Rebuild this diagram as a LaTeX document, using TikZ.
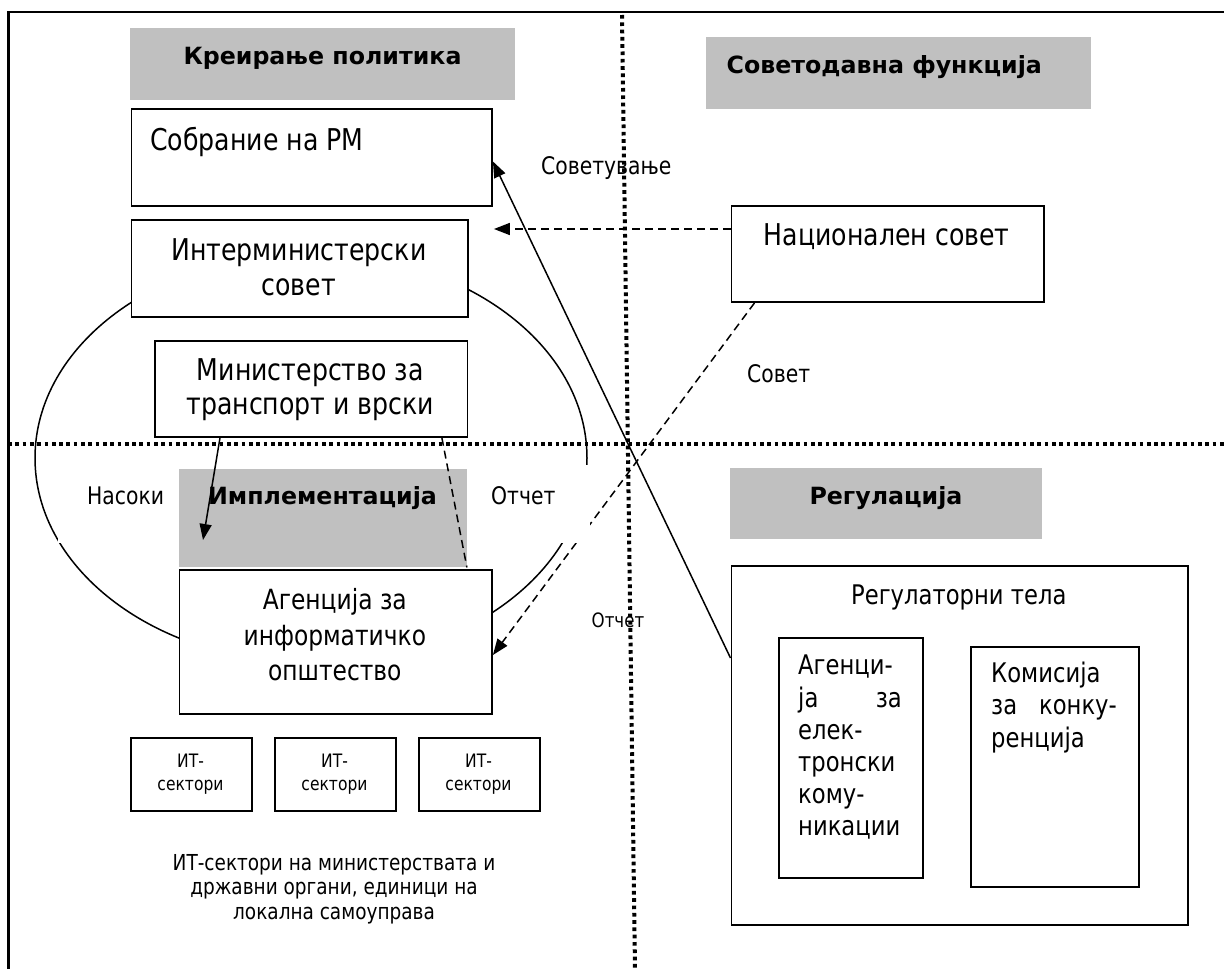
\documentclass[tikz,border=0pt]{standalone}
\usepackage{fontspec}
\setmainfont{DejaVu Sans}[FakeStretch=0.84]
\newfontfamily\headfont{DejaVu Sans}
\usetikzlibrary{arrows.meta,calc}
\definecolor{silverg}{RGB}{192,192,192}
\newcommand\fmain{\fontsize{30pt}{34pt}\selectfont}
\newcommand\fhead{\headfont\bfseries\fontsize{23.7pt}{28pt}\selectfont}
\newcommand\fag{\fontsize{27.8pt}{32pt}\selectfont}
\newcommand\freg{\fontsize{27pt}{32pt}\selectfont}
\newcommand\flab{\fontsize{24.2pt}{28pt}\selectfont}
\newcommand\fsm{\fontsize{19.8pt}{23pt}\selectfont}
\newcommand\fit{\fontsize{18.5pt}{22pt}\selectfont}
\newcommand\fbot{\fontsize{22pt}{25pt}\selectfont}
\begin{document}
\begin{tikzpicture}[x=1pt,y=-1pt,
  box/.style={draw,line width=1.9pt,fill=white,inner sep=0,anchor=north west},
  gbox/.style={fill=silverg,inner sep=0,anchor=north west},
  patch/.style={fill=white,inner sep=0,anchor=north west},
  tc/.style={inner sep=0,anchor=base},
  tl/.style={inner sep=0,anchor=base west},
  tr/.style={inner sep=0,anchor=base east},
  conn/.style={line width=1.5pt},
  dsh/.style={conn,dash pattern=on 8pt off 5pt},
  tip/.style={-{Triangle[length=16pt,width=12pt]}},
  dotl/.style={line width=4pt,dash pattern=on 3.7pt off 3.6pt}]
\path[use as bounding box] (0,0) rectangle (1224,969);
\clip (0,0) rectangle (1224,969);
% outer frame
\draw[line width=2.6pt] (8.5,1000) -- (8.5,12) -- (1300,12);
% ellipse
\draw[line width=1.5pt] (311,458) ellipse [x radius=276pt, y radius=205pt];
% gray headers
\node[gbox,minimum width=385pt,minimum height=72pt] (krg) at (130,28) {};
\node[gbox,minimum width=385pt,minimum height=72pt] (svg) at (706,37) {};
\node[gbox,minimum width=312pt,minimum height=71pt] (rgg) at (730,468) {};
\node[gbox,minimum width=288pt,minimum height=98pt] (img) at (178.5,469) {};
% boxes
\node[box,minimum width=360.5pt,minimum height=97pt] (sob) at (130.5,108) {};
\node[box,minimum width=336.5pt,minimum height=97pt] (int) at (130.5,219) {};
\node[box,minimum width=312.5pt,minimum height=96pt] (nac) at (730.5,205) {};
\node[box,minimum width=312.5pt,minimum height=96pt] (min) at (154,340) {};
\node[box,minimum width=312.5pt,minimum height=144pt] (ag) at (178.5,569) {};
\node[box,minimum width=121pt,minimum height=73pt] (it1) at (130,737) {};
\node[box,minimum width=121pt,minimum height=73pt] (it2) at (274,737) {};
\node[box,minimum width=121pt,minimum height=73pt] (it3) at (418,737) {};
\node[box,minimum width=456.5pt,minimum height=359pt] (reg) at (730.5,565) {};
\node[box,minimum width=144pt,minimum height=240pt] (ek) at (778,637) {};
\node[box,minimum width=168pt,minimum height=240pt] (kom) at (970,646) {};
% connectors
\draw[conn,tip] ($(reg.north west)+(0,93)$) -- ($(sob.east)+(0,4)$);
\draw[dsh,tip] ($(nac.north west)+(0,24)$) -- ($(int.north east)+(25,10)$);
\draw[dsh,tip] ($(nac.south west)+(24,0)$) -- ($(ag.north east)+(0,86)$);
\draw[conn,tip] ($(min.south west)+(66,0)$) -- ($(img.north west)+(24.5,71)$);
\draw[dsh] ($(min.south east)+(-26.5,0)$) -- (img.south east);
% label backgrounds
\node[patch,minimum width=110pt,minimum height=78pt] (otbg) at (480,465) {};
\node[patch,minimum width=118pt,minimum height=78pt] (nsbg) at (58,465) {};
% texts
\node[tc,font=\fhead] (tkr) at (322.5,64) {Креирање политика};
\node[tl,font=\fhead] (tsv) at (726.5,73) {Советодавна функција};
\node[tc,font=\fhead] (trg) at (886,504) {Регулација};
\node[tc,font=\fhead] (tim) at (322.5,504) {Имплементација};
\node[tl,font=\fmain] (tsob) at (150,150) {Собрание на РМ};
\node[tc,font=\fmain] (tint1) at (298.8,260) {Интерминистерски};
\node[tc,font=\fmain] (tint2) at (298.8,295) {совет};
\node[tc,font=\fmain] (tnac) at (886.8,245) {Национален совет};
\node[tc,font=\fmain] (tmin1) at (310.3,380) {Министерство за};
\node[tc,font=\fmain] (tmin2) at (310.3,414) {транспорт и врски};
\node[tc,font=\fag] (tag1) at (334.8,609) {Агенција за};
\node[tc,font=\fag] (tag2) at (334.8,645) {информатичко};
\node[tc,font=\fag] (tag3) at (334.8,680) {општество};
\node[tc,font=\freg] (treg) at (958.8,604) {Регулаторни тела};
\node[tl,font=\freg] (tek1) at (798,674) {Агенци-};
\node[tl,font=\freg] (tek2) at (798,707) {ја};
\node[tr,font=\freg] (tek2b) at (902,707) {за};
\node[tl,font=\freg] (tek3) at (798,739) {елек-};
\node[tl,font=\freg] (tek4) at (798,771) {тронски};
\node[tl,font=\freg] (tek5) at (798,803) {кому-};
\node[tl,font=\freg] (tek6) at (798,835) {никации};
\node[tl,font=\freg] (tkm1) at (991,682) {Комисија};
\node[tl,font=\freg] (tkm2) at (991,714) {за};
\node[tr,font=\freg] (tkm2b) at (1117,714) {конку-};
\node[tl,font=\freg] (tkm3) at (991,747) {ренција};
\node[tc,font=\fit] (ti1a) at (190.5,767) {ИТ-};
\node[tc,font=\fit] (ti1b) at (190.5,790) {сектори};
\node[tc,font=\fit] (ti2a) at (334.5,767) {ИТ-};
\node[tc,font=\fit] (ti2b) at (334.5,790) {сектори};
\node[tc,font=\fit] (ti3a) at (478.5,767) {ИТ-};
\node[tc,font=\fit] (ti3b) at (478.5,790) {сектори};
\node[tc,font=\fbot] (tb1) at (334,870) {ИТ-сектори на министерствата и};
\node[tc,font=\fbot] (tb2) at (334,894) {државни органи, единици на};
\node[tc,font=\fbot] (tb3) at (334,919) {локална самоуправа};
\node[tl,font=\flab] (lsov) at (541,174) {Советување};
\node[tl,font=\flab] (lsv) at (747,382) {Совет};
\node[tl,font=\flab] (lnas) at (87,504) {Насоки};
\node[tl,font=\flab] (lot) at (491,504) {Отчет};
\node[tl,font=\fsm] (lot2) at (591.5,627) {Отчет};
% quadrant dividers
\draw[dotl] (8,444) -- (1224,444);
\draw[dotl] (622,15) -- (635,969);
\end{tikzpicture}
\end{document}
